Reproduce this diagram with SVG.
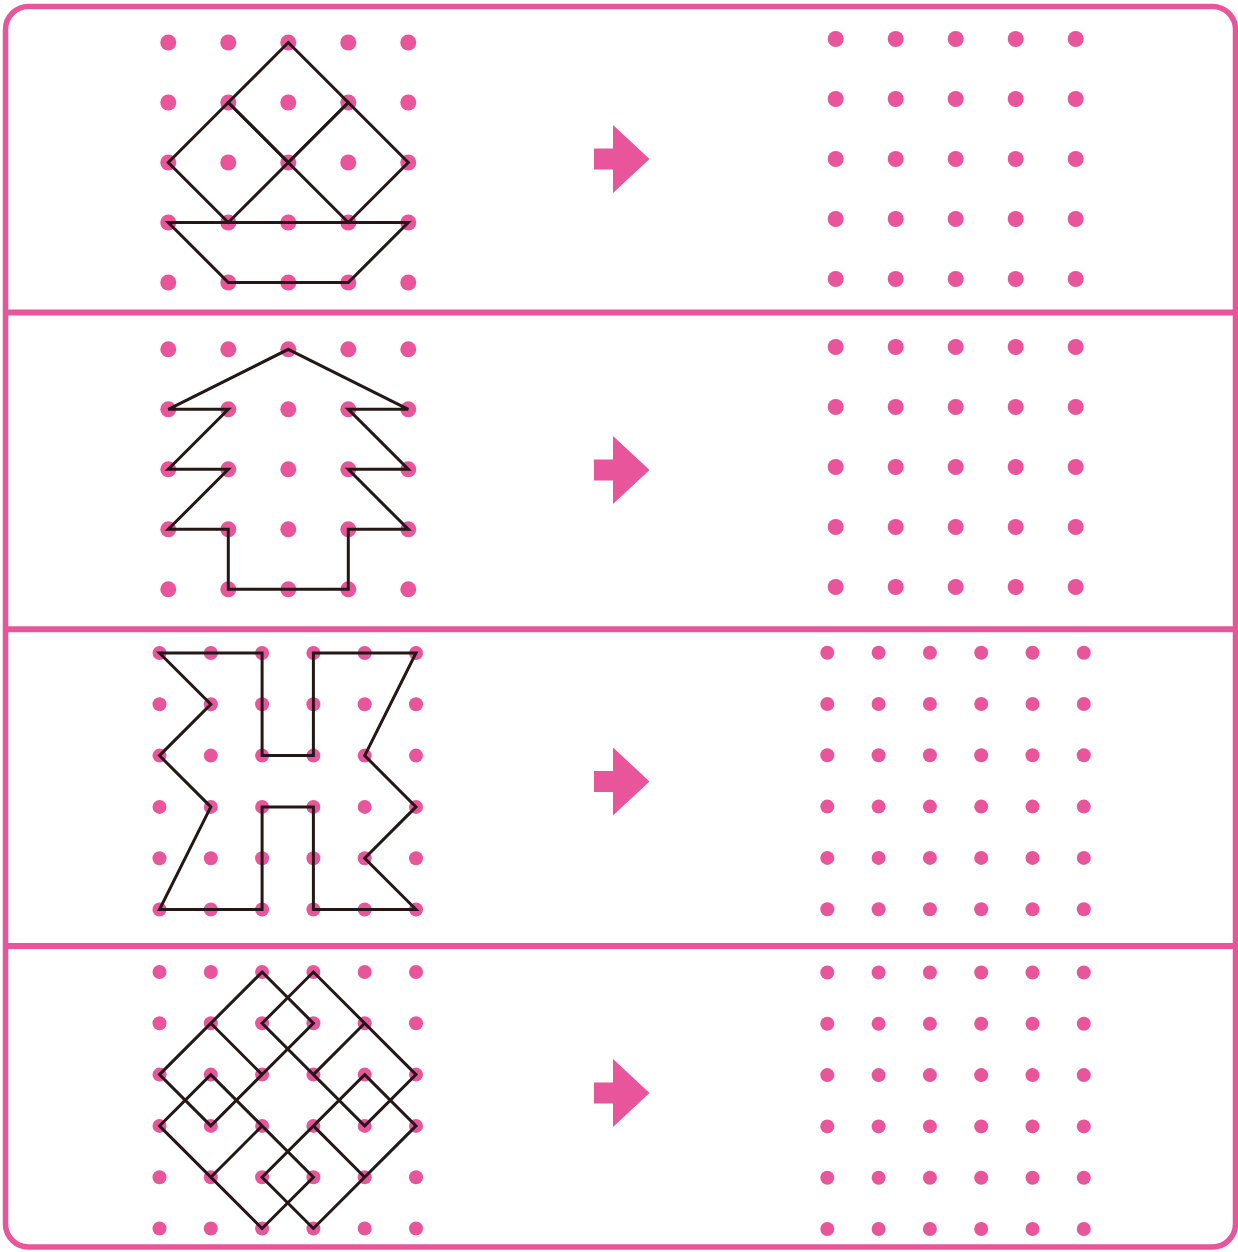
<svg xmlns="http://www.w3.org/2000/svg" xmlns:xlink="http://www.w3.org/1999/xlink" width="1238" height="1252" viewBox="0 0 1238 1252">
  <style>
    .dot { fill: #E8559A; }
    .fig { fill: none; stroke: #231815; stroke-width: 3; stroke-linejoin: miter; stroke-linecap: butt; }
    .frame { fill: #ffffff; stroke: #E8559A; stroke-width: 5.5; }
    .divider { stroke: #E8559A; stroke-width: 6; }
    .arrow { fill: #E8559A; }
  </style>
  <defs>
    <g id="row5">
      <circle class="dot" cx="0" cy="0" r="8"/>
      <circle class="dot" cx="60" cy="0" r="8"/>
      <circle class="dot" cx="120" cy="0" r="8"/>
      <circle class="dot" cx="180" cy="0" r="8"/>
      <circle class="dot" cx="240" cy="0" r="8"/>
    </g>
    <g id="grid5">
      <use href="#row5" xlink:href="#row5"/>
      <use href="#row5" xlink:href="#row5" y="60"/>
      <use href="#row5" xlink:href="#row5" y="120"/>
      <use href="#row5" xlink:href="#row5" y="180"/>
      <use href="#row5" xlink:href="#row5" y="240"/>
    </g>
    <g id="row6">
      <circle class="dot" cx="0" cy="0" r="7"/>
      <circle class="dot" cx="51.3" cy="0" r="7"/>
      <circle class="dot" cx="102.6" cy="0" r="7"/>
      <circle class="dot" cx="153.9" cy="0" r="7"/>
      <circle class="dot" cx="205.2" cy="0" r="7"/>
      <circle class="dot" cx="256.5" cy="0" r="7"/>
    </g>
    <g id="grid6">
      <use href="#row6" xlink:href="#row6"/>
      <use href="#row6" xlink:href="#row6" y="51.3"/>
      <use href="#row6" xlink:href="#row6" y="102.6"/>
      <use href="#row6" xlink:href="#row6" y="153.9"/>
      <use href="#row6" xlink:href="#row6" y="205.2"/>
      <use href="#row6" xlink:href="#row6" y="256.5"/>
    </g>
    <path id="arrowShape" class="arrow" d="M594,-10.5 H613 V-34 L649.5,0 L613,34 V10.5 H594 Z"/>
  </defs>

  <g id="frame">
    <rect class="frame" x="5.5" y="6.5" width="1230" height="1240.5" rx="23" ry="23"/>
    <line class="divider" x1="5.5" y1="312.5" x2="1235.5" y2="312.5"/>
    <line class="divider" x1="5.5" y1="629.3" x2="1235.5" y2="629.3"/>
    <line class="divider" x1="5.5" y1="946" x2="1235.5" y2="946"/>
  </g>

  <!-- Row 1 -->
  <g id="row1-left">
    <use href="#grid5" xlink:href="#grid5" x="168.3" y="42.5"/>
    <g transform="translate(168.3,42.5)">
      <polygon class="fig" points="120,0 180,60 120,120 60,60"/>
      <polygon class="fig" points="60,60 120,120 60,180 0,120"/>
      <polygon class="fig" points="180,60 240,120 180,180 120,120"/>
      <polygon class="fig" points="0,180 240,180 180,240 60,240"/>
    </g>
  </g>
  <g id="row1-right">
    <use href="#grid5" xlink:href="#grid5" x="835.7" y="39"/>
  </g>

  <!-- Row 2 -->
  <g id="row2-left">
    <use href="#grid5" xlink:href="#grid5" x="168.3" y="349.3"/>
    <g transform="translate(168.3,349.3)">
      <polygon class="fig" points="120,0 240,60 180,60 240,120 180,120 240,180 180,180 180,240 60,240 60,180 0,180 60,120 0,120 60,60 0,60"/>
    </g>
  </g>
  <g id="row2-right">
    <use href="#grid5" xlink:href="#grid5" x="835.7" y="347"/>
  </g>

  <!-- Row 3 -->
  <g id="row3-left">
    <use href="#grid6" xlink:href="#grid6" x="159.5" y="653"/>
    <g transform="translate(159.5,653)">
      <polygon class="fig" points="0,0 102.6,0 102.6,102.6 153.9,102.6 153.9,0 256.5,0 205.2,102.6 256.5,153.9 205.2,205.2 256.5,256.5 153.9,256.5 153.9,153.9 102.6,153.9 102.6,256.5 0,256.5 51.3,153.9 0,102.6 51.3,51.3"/>
    </g>
  </g>
  <g id="row3-right">
    <use href="#grid6" xlink:href="#grid6" x="827.3" y="652.7"/>
  </g>

  <!-- Row 4 -->
  <g id="row4-left">
    <use href="#grid6" xlink:href="#grid6" x="159.5" y="972"/>
    <g transform="translate(159.5,972)">
      <polygon class="fig" points="102.6,0 153.9,51.3 51.3,153.9 0,102.6"/>
      <polygon class="fig" points="153.9,0 256.5,102.6 205.2,153.9 102.6,51.3"/>
      <polygon class="fig" points="256.5,153.9 153.9,256.5 102.6,205.2 205.2,102.6"/>
      <polygon class="fig" points="102.6,256.5 0,153.9 51.3,102.6 153.9,205.2"/>
      <line class="fig" x1="51.3" y1="51.3" x2="102.6" y2="102.6"/>
      <line class="fig" x1="205.2" y1="51.3" x2="153.9" y2="102.6"/>
      <line class="fig" x1="205.2" y1="205.2" x2="153.9" y2="153.9"/>
      <line class="fig" x1="51.3" y1="205.2" x2="102.6" y2="153.9"/>
    </g>
  </g>
  <g id="row4-right">
    <use href="#grid6" xlink:href="#grid6" x="827.3" y="972.5"/>
  </g>

  <g id="connectors">
    <use href="#arrowShape" xlink:href="#arrowShape" y="159"/>
    <use href="#arrowShape" xlink:href="#arrowShape" y="470"/>
    <use href="#arrowShape" xlink:href="#arrowShape" y="781.5"/>
    <use href="#arrowShape" xlink:href="#arrowShape" y="1093"/>
  </g>
</svg>
